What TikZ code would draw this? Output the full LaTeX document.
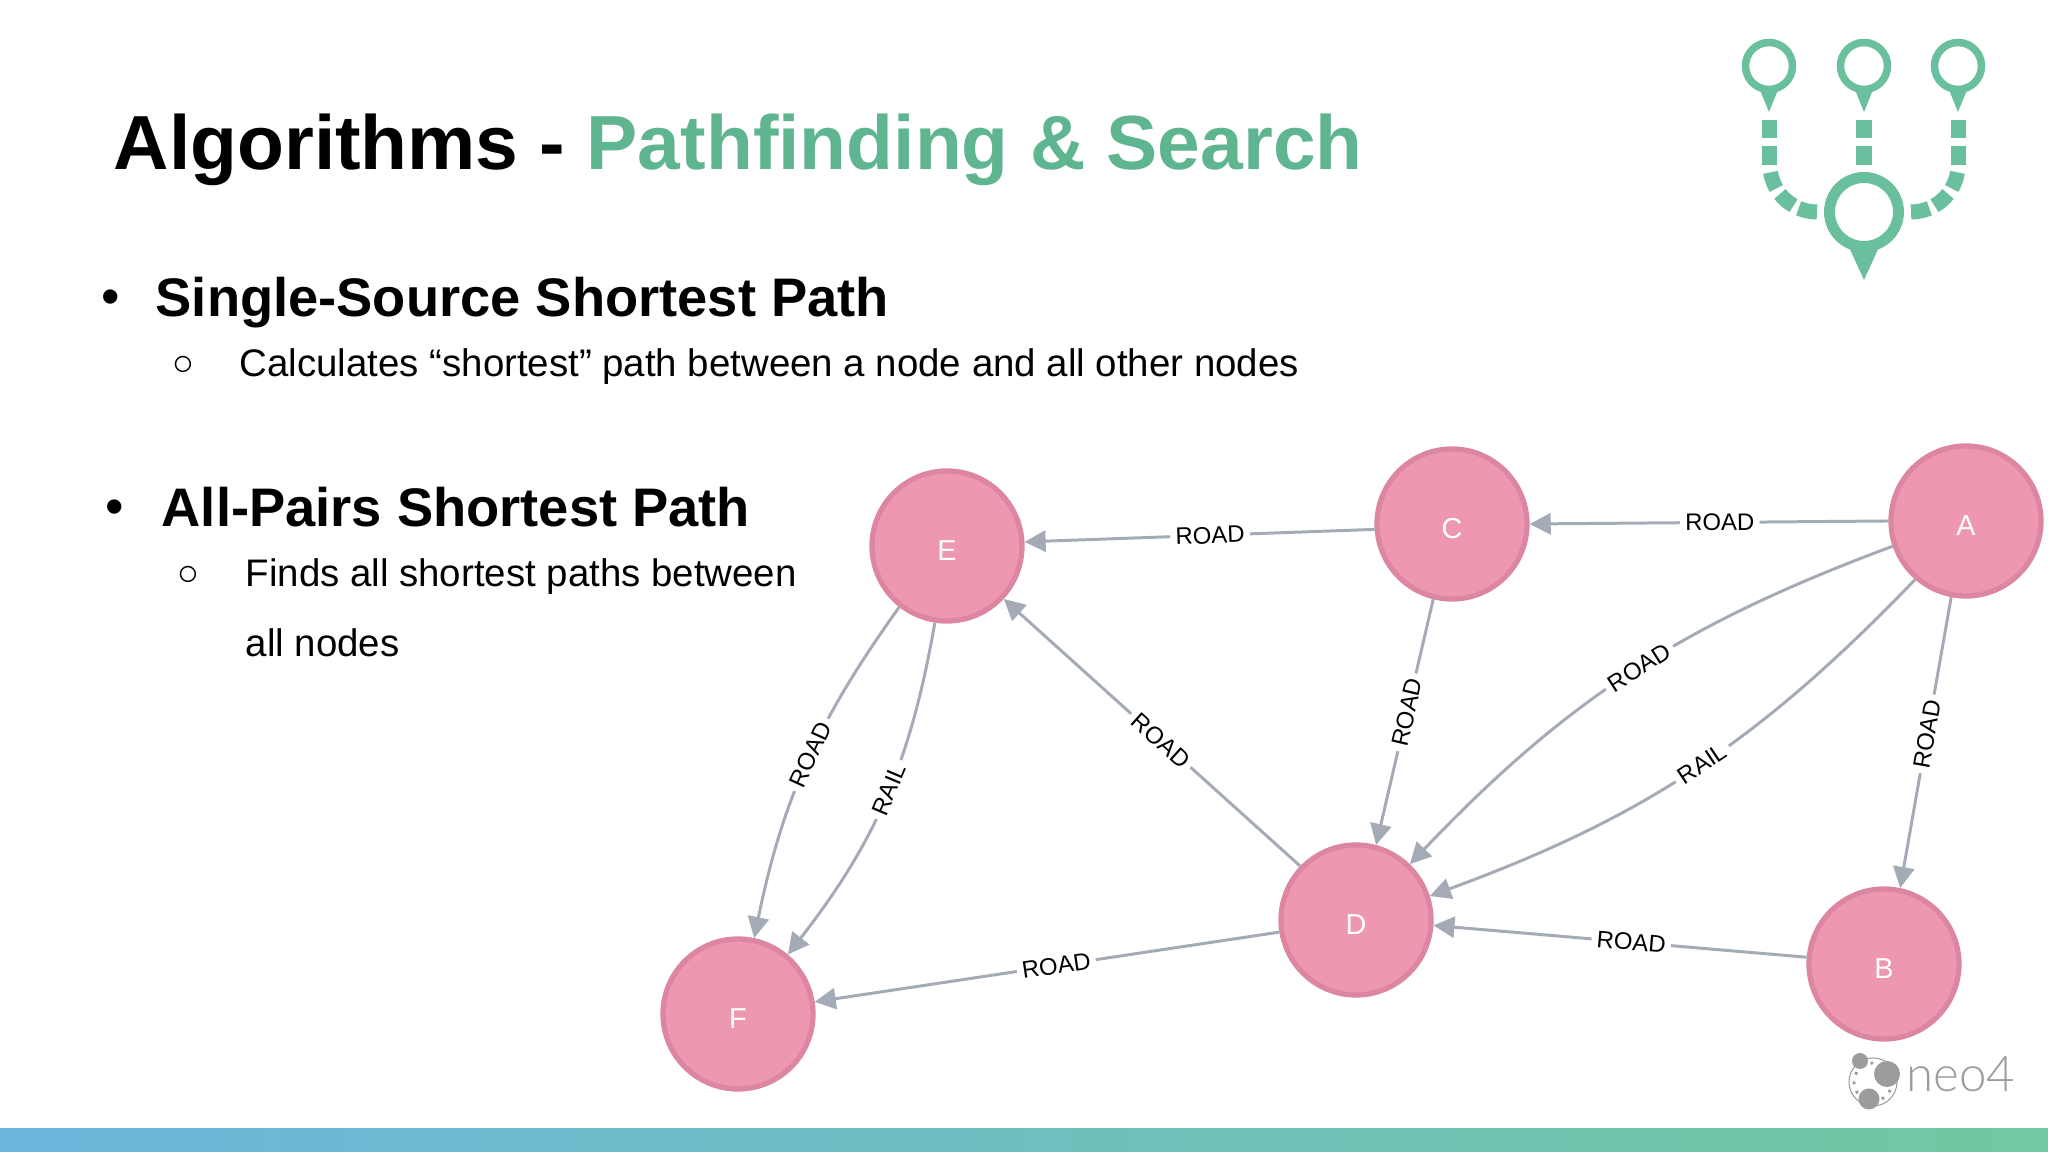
\documentclass[tikz,border=0pt]{standalone}
\usepackage{fontspec}
\setmainfont{Liberation Sans}
\newfontfamily\logofont{Lato Light}
\usepackage{xcolor}
\usetikzlibrary{arrows.meta}
\definecolor{pathgreen}{HTML}{5FB58F}
\definecolor{iconcolor}{HTML}{6ABF9C}
\definecolor{nodepink}{HTML}{EE97B0}
\definecolor{nodeline}{HTML}{DC86A1}
\definecolor{edgegray}{HTML}{A5ABB6}
\definecolor{logogray}{HTML}{9C9C9C}
\definecolor{barblue}{HTML}{6DB6DE}
\definecolor{bargreen}{HTML}{70C9A0}
\tikzset{
  city/.style={circle, draw=nodeline, fill=nodepink, line width=1.5pt, minimum size=1.5cm, inner sep=0pt, text=white, text height=8.5pt, text depth=0pt, font=\fontsize{8.2}{10}\selectfont},
  link/.style={draw=edgegray, line width=0.85pt, -{Triangle[length=6pt,width=6pt]}},
  linklabel/.style={fill=white, sloped, inner sep=1.5pt, text=black, font=\fontsize{6.8}{8}\selectfont},
  headtext/.style={anchor=base west, inner sep=0pt, font=\fontsize{15.45}{18}\selectfont\bfseries},
  bodytext/.style={anchor=base west, inner sep=0pt, font=\fontsize{10.93}{13}\selectfont},
  headdot/.style={inner sep=0pt, font=\fontsize{15}{18}\selectfont},
  bodydot/.style={inner sep=0pt, font=\fontsize{10.5}{13}\selectfont},
  pinring/.style={draw=iconcolor, line width=0.075cm, fill=white},
  pinbig/.style={draw=iconcolor, line width=0.11cm, fill=white},
  arcdash/.style={draw=iconcolor, line width=0.15cm}
}
\begin{document}
\begin{tikzpicture}
\useasboundingbox (0,0) rectangle (20.48,11.52);
\shade[left color=barblue, right color=bargreen] (0,0) rectangle (20.48,0.23);

\node[anchor=base west, inner sep=0pt, font=\fontsize{21.83}{26}\selectfont\bfseries] (title) at (1.13,9.82) {Algorithms - \textcolor{pathgreen}{Pathfinding \& Search}};

\node[headdot] (dota) at (1.11,8.50) {•};
\node[headtext] (single) at (1.55,8.35) {Single-Source Shortest Path};
\node[bodydot] (dotb) at (1.83,7.86) {○};
\node[bodytext] (singletext) at (2.39,7.75) {Calculates “shortest” path between a node and all other nodes};
\node[headdot] (dotc) at (1.15,6.40) {•};
\node[headtext] (pairs) at (1.61,6.25) {All-Pairs Shortest Path};
\node[bodydot] (dotd) at (1.88,5.76) {○};
\node[bodytext] (pairstext) at (2.45,5.65) {Finds all shortest paths between};
\node[bodytext] (pairsmore) at (2.45,4.95) {all nodes};

\node[city] (E) at (9.47,6.06) {E};
\node[city] (C) at (14.52,6.28) {C};
\node[city] (A) at (19.66,6.31) {A};
\node[city] (D) at (13.56,2.32) {D};
\node[city] (B) at (18.84,1.88) {B};
\node[city] (F) at (7.38,1.38) {F};

\draw[link] (A.180) -- node[linklabel, pos=.47] {ROAD} (C.0);
\draw[link] (C.184) -- node[linklabel, pos=.47] {ROAD} (E.3);
\draw[link] (C.256) -- node[linklabel, pos=.46] {ROAD} (D.75);
\draw[link] (A.259) -- node[linklabel, pos=.47] {ROAD} (B.78);
\draw[link] (A.199) to[bend right=13] node[linklabel, pos=.48] {ROAD} (D.46);
\draw[link] (A.229) to[bend left=13] node[linklabel, pos=.48] {RAIL} (D.18);
\draw[link] (B.175) -- node[linklabel, pos=.47] {ROAD} (D.-4);
\draw[link] (D.136) -- node[linklabel, pos=.47] {ROAD} (E.-43);
\draw[link] (D.189) -- node[linklabel, pos=.48] {ROAD} (F.9);
\draw[link] (E.232) to[bend right=12] node[linklabel, pos=.47] {ROAD} (F.78);
\draw[link] (E.261) to[bend left=14] node[linklabel, pos=.47] {RAIL} (F.50);

\fill[iconcolor] (17.58,10.67) -- (17.80,10.67) -- (17.69,10.40) -- cycle;
\fill[iconcolor] (18.53,10.67) -- (18.75,10.67) -- (18.64,10.40) -- cycle;
\fill[iconcolor] (19.47,10.67) -- (19.69,10.67) -- (19.58,10.40) -- cycle;
\draw[pinring] (17.69,10.86) circle (0.235);
\draw[pinring] (18.64,10.86) circle (0.235);
\draw[pinring] (19.58,10.86) circle (0.235);
\fill[iconcolor] (17.62,10.32) rectangle (17.77,10.14);
\fill[iconcolor] (17.62,10.06) rectangle (17.77,9.87);
\fill[iconcolor] (18.56,10.32) rectangle (18.72,10.14);
\fill[iconcolor] (18.56,10.06) rectangle (18.72,9.87);
\fill[iconcolor] (19.51,10.32) rectangle (19.66,10.14);
\fill[iconcolor] (19.51,10.06) rectangle (19.66,9.87);
\draw[arcdash] (18.17,9.87) ++(189:.47) arc (189:210:.47);
\draw[arcdash] (18.17,9.87) ++(218:.47) arc (218:240:.47);
\draw[arcdash] (18.17,9.87) ++(247:.47) arc (247:270:.47);
\draw[arcdash] (19.11,9.87) ++(-9:.47) arc (-9:-30:.47);
\draw[arcdash] (19.11,9.87) ++(-38:.47) arc (-38:-60:.47);
\draw[arcdash] (19.11,9.87) ++(-67:.47) arc (-67:-90:.47);
\fill[iconcolor] (18.48,9.07) -- (18.80,9.07) -- (18.64,8.72) -- cycle;
\draw[pinbig] (18.64,9.40) circle (0.345);

\draw[logogray, line width=0.3pt] (18.73,0.70) circle (0.24);
\draw[logogray, line width=0.8pt, dotted] (18.73,0.70) circle (0.19);
\fill[logogray] (18.87,0.78) circle (0.13);
\fill[logogray] (18.69,0.53) circle (0.105);
\fill[logogray] (18.60,0.91) circle (0.08);
\node[anchor=base west, inner sep=0pt, text=logogray, font=\fontsize{14}{17}\logofont] (logo) at (19.06,0.60) {neo4};
\end{tikzpicture}
\end{document}
